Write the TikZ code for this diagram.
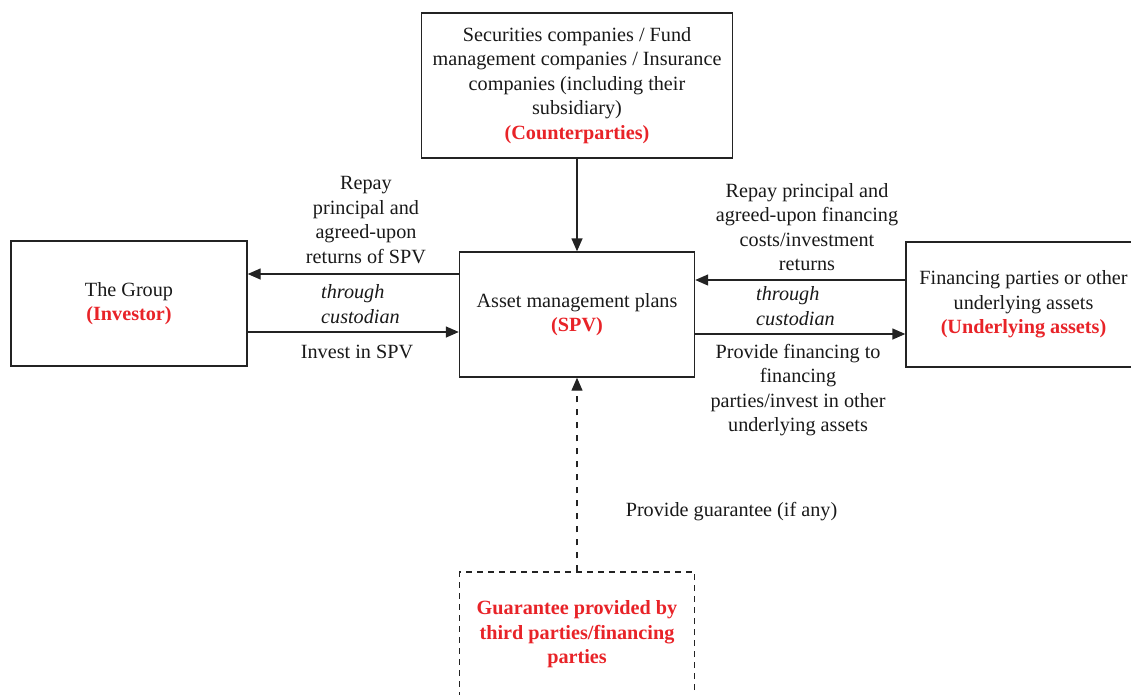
\documentclass[tikz,border=0pt]{standalone}
\usepackage{fontspec}
\setmainfont{Liberation Serif}
\usetikzlibrary{arrows.meta}
\definecolor{lbl}{RGB}{232,35,40}
\definecolor{ln}{RGB}{35,35,35}
\begin{document}
\begin{tikzpicture}[x=1pt,y=-1pt,
  every node/.style={font=\fontsize{20.2}{24.5}\selectfont, text=black!90, inner sep=0pt},
  box/.style={draw=ln, line width=1.4pt, align=center},
  dbox/.style={box, line width=1.2pt, dash pattern=on 6pt off 5pt},
  arr/.style={draw=ln, line width=1.4pt, -{Triangle[length=13pt,width=11pt]}},
  darr/.style={arr, line width=1.2pt, dash pattern=on 6pt off 7pt},
  lab/.style={align=center},
  itl/.style={align=left, anchor=west, font=\fontsize{20.2}{24.5}\selectfont\itshape}]
\useasboundingbox (0,0) rectangle (1131,694);
\clip (0,0) rectangle (1131,694);
\node[box, minimum width=311pt, minimum height=145pt] (top) at (577,85.5)
  {Securities companies / Fund\\management companies / Insurance\\companies (including their\\subsidiary)\\{\color{lbl}\bfseries (Counterparties)}};
\node[box, minimum width=236pt, minimum height=125pt] (group) at (129,303.5)
  {The Group\\{\color{lbl}\bfseries (Investor)}};
\node[box, minimum width=235pt, minimum height=125pt] (spv) at (577,314.5)
  {Asset management plans\\{\color{lbl}\bfseries (SPV)}};
\node[box, minimum width=235pt, minimum height=125pt] (under) at (1023.5,304.5)
  {Financing parties or other\\underlying assets\\{\color{lbl}\bfseries (Underlying assets)}};
\node[dbox, minimum width=235pt, minimum height=125pt] (guar) at (577,634.5)
  {{\color{lbl}\bfseries Guarantee provided by}\\{\color{lbl}\bfseries third parties/financing}\\{\color{lbl}\bfseries parties}};
% connectors
\draw[arr] (top.south) -- (spv.north);
\draw[arr] (spv.west |- 0,274) -- (group.east |- 0,274);
\draw[arr] (group.east |- 0,332) -- (spv.west |- 0,332);
\draw[arr] (under.west |- 0,280) -- (spv.east |- 0,280);
\draw[arr] (spv.east |- 0,334) -- (under.west |- 0,334);
\draw[darr] (guar.north) -- (spv.south);
% labels
\node[lab] (l1) at (366,220) {Repay\\principal and\\agreed-upon\\returns of SPV};
\node[itl] (l2) at (321,304) {through\\custodian};
\node[lab] (l3) at (357,352) {Invest in SPV};
\node[lab] (r1) at (807,227) {Repay principal and\\agreed-upon financing\\costs/investment\\returns};
\node[itl] (r2) at (756,306) {through\\custodian};
\node[lab] (r3) at (798,390) {Provide financing to\\financing\\parties/invest in other\\underlying assets};
\node[lab] (g1) at (731.5,512) {Provide guarantee (if any)};
\end{tikzpicture}
\end{document}
